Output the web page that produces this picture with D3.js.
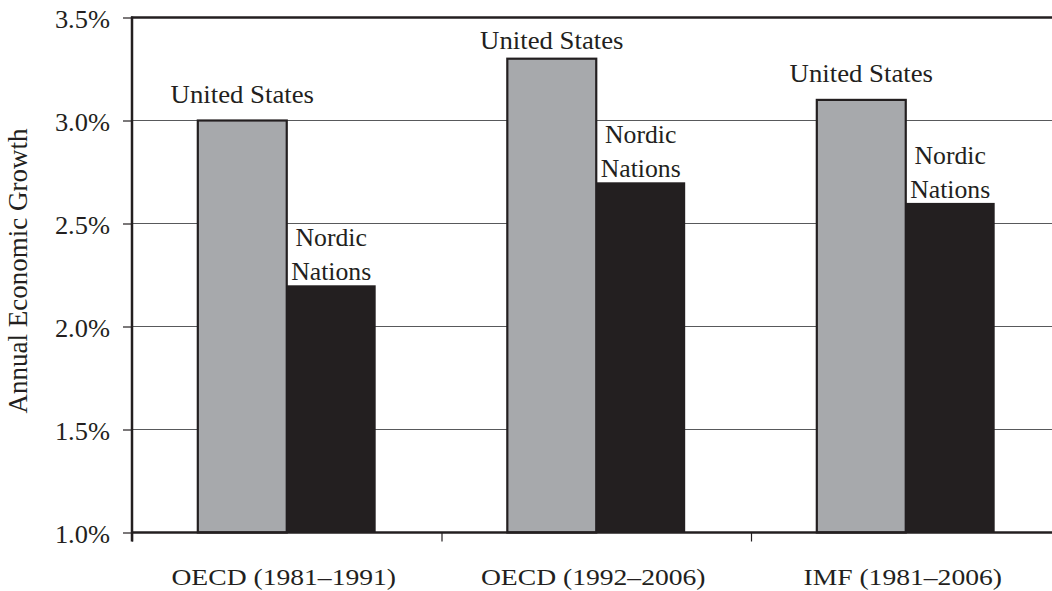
<!DOCTYPE html>
<html>
<head>
<meta charset="utf-8">
<script src="https://cdn.jsdelivr.net/npm/d3@7"></script>
<style>
  body { margin: 0; background: #fff; }
  svg { display: block; }
  text { font-family: "Liberation Serif", "DejaVu Serif", serif; fill: #231f20; }
</style>
</head>
<body>
<div id="chart"></div>
<script>
const width = 1052;
const height = 591;

// data
const categories = ["OECD (1981\u20131991)", "OECD (1992\u20132006)", "IMF (1981\u20132006)"];
const seriesNames = ["United States", "Nordic Nations"];
const usGrowth = [3.0, 3.3, 3.1];
const nordicGrowth = [2.2, 2.7, 2.6];
const yTicks = [1.0, 1.5, 2.0, 2.5, 3.0, 3.5];

const rows = categories.map((c, i) => ({
  cat: c,
  values: [
    { key: seriesNames[0], value: usGrowth[i] },
    { key: seriesNames[1], value: nordicGrowth[i] }
  ]
}));

const plotLeft = 132, plotTop = 17.5, plotBottom = 532.5;
const step = 309.5;

const svg = d3.select("#chart")
  .append("svg")
  .attr("width", width)
  .attr("height", height);

const x0 = d3.scaleBand()
  .domain(categories)
  .range([plotLeft, plotLeft + step * categories.length])
  .padding(0);

const x1 = d3.scaleBand()
  .domain(seriesNames)
  .range([0, x0.bandwidth()])
  .paddingInner(0)
  .paddingOuter(0.74);

const y = d3.scaleLinear()
  .domain([1.0, 3.5])
  .range([plotBottom, plotTop]);

const fills = { "United States": "#a7a9ac", "Nordic Nations": "#231f20" };

// horizontal stretch of text (the source type is set wide)
function stretch(sel, k) {
  sel.each(function () {
    const w = this.getComputedTextLength();
    d3.select(this).attr("textLength", w * k).attr("lengthAdjust", "spacingAndGlyphs");
  });
}

// gridlines
svg.append("g")
  .selectAll("line")
  .data(yTicks.filter(t => t > 1.0 && t < 3.5))
  .join("line")
  .attr("x1", plotLeft)
  .attr("x2", width)
  .attr("y1", d => y(d))
  .attr("y2", d => y(d))
  .attr("stroke", "#58595b")
  .attr("stroke-width", 1.2);

// bars
const groups = svg.append("g")
  .selectAll("g")
  .data(rows)
  .join("g")
  .attr("transform", d => `translate(${x0(d.cat)},0)`);

groups.selectAll("rect")
  .data(d => d.values)
  .join("rect")
  .attr("x", d => x1(d.key))
  .attr("y", d => y(d.value))
  .attr("width", x1.bandwidth())
  .attr("height", d => plotBottom - y(d.value))
  .attr("fill", d => fills[d.key])
  .attr("stroke", d => d.key === "United States" ? "#231f20" : "none")
  .attr("stroke-width", 2.2);

// bar labels
groups.append("text")
  .attr("x", x1(seriesNames[0]) + x1.bandwidth() / 2)
  .attr("y", d => Math.max(y(d.values[0].value) - 18, y(3.5) + 31))
  .attr("text-anchor", "middle")
  .attr("font-size", 25)
  .text(seriesNames[0])
  .call(stretch, 1.07);

const nordicLabel = groups.append("text")
  .attr("text-anchor", "middle")
  .attr("font-size", 24.5);
nordicLabel.append("tspan")
  .attr("x", x1(seriesNames[1]) + x1.bandwidth() / 2)
  .attr("y", d => y(d.values[1].value) - 39)
  .text("Nordic");
nordicLabel.append("tspan")
  .attr("x", x1(seriesNames[1]) + x1.bandwidth() / 2)
  .attr("y", d => y(d.values[1].value) - 5)
  .text("Nations");
nordicLabel.selectAll("tspan").call(stretch, 1.05);

// y axis
const yAxis = svg.append("g")
  .attr("transform", `translate(${plotLeft},0)`)
  .call(d3.axisLeft(y)
    .tickValues(yTicks)
    .tickFormat(d => d.toFixed(1) + "%")
    .tickSize(9)
    .tickPadding(13));
yAxis.select(".domain").remove();
yAxis.selectAll(".tick line").attr("stroke", "#231f20").attr("stroke-width", 1.2);
yAxis.selectAll(".tick text")
  .attr("font-family", "Liberation Serif")
  .attr("font-size", 24.5)
  .attr("fill", "#231f20")
  .attr("dy", "0.4em")
  .call(stretch, 1.08);

// category labels and boundary ticks
svg.append("g")
  .selectAll("line")
  .data(categories)
  .join("line")
  .attr("x1", d => x0(d) + 0.5)
  .attr("x2", d => x0(d) + 0.5)
  .attr("y1", plotBottom)
  .attr("y2", plotBottom + 9)
  .attr("stroke", "#231f20")
  .attr("stroke-width", 1.2);

svg.append("g")
  .selectAll("text")
  .data(categories)
  .join("text")
  .attr("x", d => x0(d) + x0.bandwidth() / 2 - 3)
  .attr("y", 585)
  .attr("text-anchor", "middle")
  .attr("font-size", 23)
  .text(d => d)
  .call(stretch, 1.2);

// frame: left axis, top line, baseline
svg.append("line")
  .attr("x1", plotLeft).attr("x2", plotLeft)
  .attr("y1", plotTop - 1).attr("y2", plotBottom + 9)
  .attr("stroke", "#231f20").attr("stroke-width", 2.5);
svg.append("line")
  .attr("x1", plotLeft - 1).attr("x2", width)
  .attr("y1", y(3.5)).attr("y2", y(3.5))
  .attr("stroke", "#231f20").attr("stroke-width", 2.5);
svg.append("line")
  .attr("x1", plotLeft - 1).attr("x2", width)
  .attr("y1", y(1.0)).attr("y2", y(1.0))
  .attr("stroke", "#231f20").attr("stroke-width", 2.5);

// axis title
svg.append("text")
  .attr("transform", `translate(27,271) rotate(-90)`)
  .attr("text-anchor", "middle")
  .attr("font-size", 27)
  .text("Annual Economic Growth");
</script>
</body>
</html>
